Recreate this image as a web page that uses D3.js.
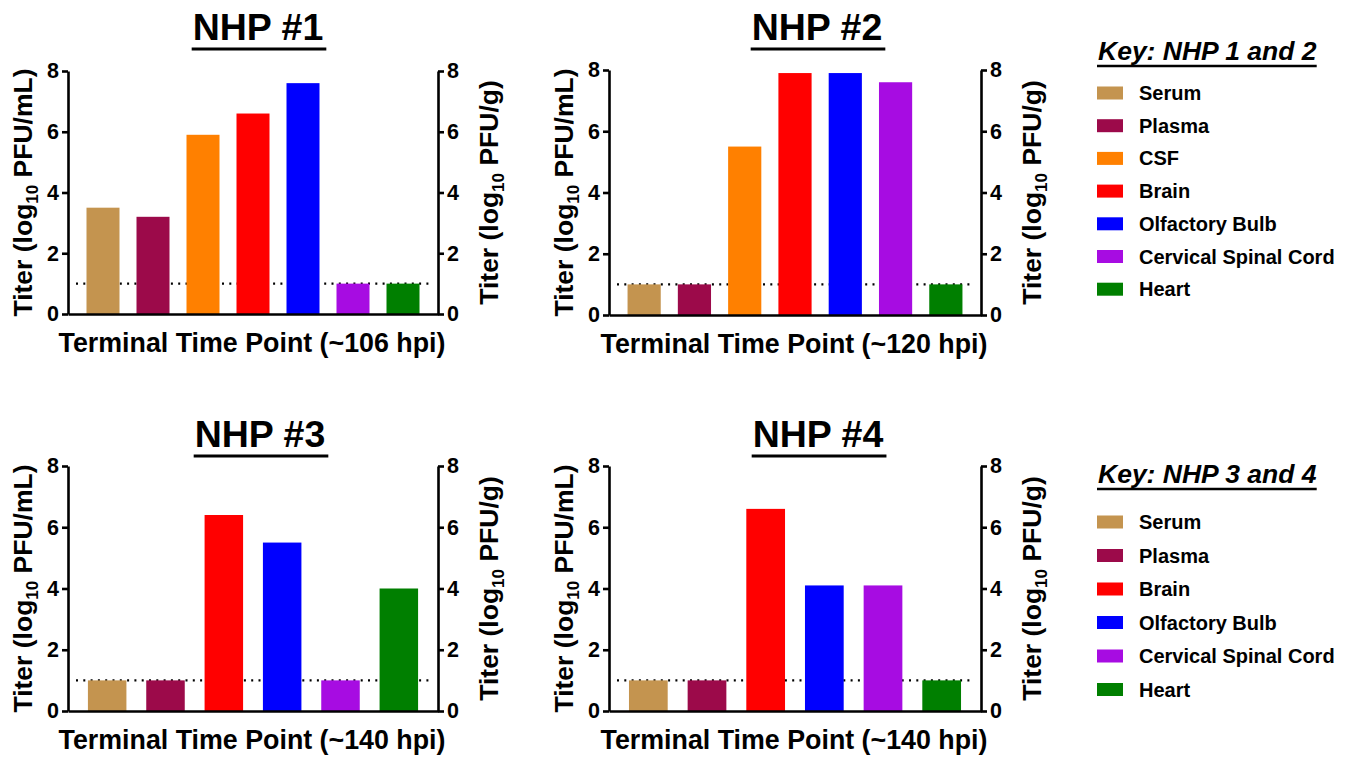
<!DOCTYPE html>
<html>
<head>
<meta charset="utf-8">
<script src="https://cdn.jsdelivr.net/npm/d3@7"></script>
<style>
  html, body { margin: 0; padding: 0; background: #fff; }
  svg { display: block; font-family: "Liberation Sans", Arial, sans-serif; font-weight: bold; }
</style>
</head>
<body>
<div id="chart"></div>
<script>
// values
const tissuesA = ["Serum", "Plasma", "CSF", "Brain", "Olfactory Bulb", "Cervical Spinal Cord", "Heart"]
const tissuesB = ["Serum", "Plasma", "Brain", "Olfactory Bulb", "Cervical Spinal Cord", "Heart"]
const nhp1Titers = [3.5, 3.2, 5.9, 6.6, 7.6, 1.0, 1.0]
const nhp2Titers = [1.0, 1.0, 5.5, 7.9, 7.9, 7.6, 1.0]
const nhp3Titers = [1.0, 1.0, 6.4, 5.5, 1.0, 4.0]
const nhp4Titers = [1.0, 1.0, 6.6, 4.1, 4.1, 1.0]
const panelTitles = ["NHP #1", "NHP #2", "NHP #3", "NHP #4"]
const timeLabels = ["Terminal Time Point (~106 hpi)", "Terminal Time Point (~120 hpi)",
    "Terminal Time Point (~140 hpi)", "Terminal Time Point (~140 hpi)"]
const keyTitles = ["Key: NHP 1 and 2", "Key: NHP 3 and 4"]
const yTicks = [0, 2, 4, 6, 8]
const yMax = 8
const detectionLimit = 1

const tissueColor = {
    "Serum": "#c4944f",
    "Plasma": "#9c0a4a",
    "CSF": "#ff8000",
    "Brain": "#ff0000",
    "Olfactory Bulb": "#0000ff",
    "Cervical Spinal Cord": "#a70ce2",
    "Heart": "#007f00"
}

// layout of each panel (plot box in page pixels)
const panels = [
    {tissues: tissuesA, values: nhp1Titers, left: 68, right: 438, top: 71, bottom: 314, titleX: 258, titleY: 40},
    {tissues: tissuesA, values: nhp2Titers, left: 609, right: 981, top: 70, bottom: 315, titleX: 817, titleY: 40},
    {tissues: tissuesB, values: nhp3Titers, left: 68, right: 438, top: 466, bottom: 711, titleX: 260, titleY: 447},
    {tissues: tissuesB, values: nhp4Titers, left: 609, right: 981, top: 466, bottom: 711, titleX: 818, titleY: 447}
]
const keys = [
    {tissues: tissuesA, x: 1097, titleY: 60, firstY: 93, gap: 32.7},
    {tissues: tissuesB, x: 1097, titleY: 483, firstY: 522, gap: 33.5}
]

const svg = d3.select("#chart")
    .append("svg")
    .attr("width", 1351)
    .attr("height", 757);

function underline(textSel, extra, offset, thick) {
    const box = textSel.node().getBBox();
    const y = +textSel.attr("y") + offset;
    svg.append("line")
        .attr("x1", box.x - 1)
        .attr("x2", box.x + box.width + extra)
        .attr("y1", y)
        .attr("y2", y)
        .attr("stroke", "#000")
        .attr("stroke-width", thick);
}

function titerLabel(g, unit, x, y) {
    const t = g.append("text")
        .attr("transform", `translate(${x}, ${y}) rotate(-90)`)
        .attr("text-anchor", "middle")
        .style("font-size", "26.5px");
    t.append("tspan").text("Titer (log");
    t.append("tspan").attr("dy", 6).style("font-size", "17px").text("10");
    t.append("tspan").attr("dy", -6).text(` PFU/${unit})`);
}

panels.forEach((p, i) => {
    const g = svg.append("g");

    const y = d3.scaleLinear()
        .domain([0, yMax])
        .range([p.bottom, p.top]);

    const x = d3.scaleBand()
        .domain(p.tissues)
        .range([p.left + 10, p.right - 10])
        .paddingInner(0.34)
        .paddingOuter(0.17);

    // limit of detection, behind the bars
    g.append("line")
        .attr("x1", p.left + 8)
        .attr("x2", p.right - 7)
        .attr("y1", y(detectionLimit))
        .attr("y2", y(detectionLimit))
        .attr("stroke", "#000")
        .attr("stroke-width", 2.2)
        .attr("stroke-dasharray", "2,5.3");

    g.selectAll("rect.bar")
        .data(p.tissues.map((t, k) => ({key: t, value: p.values[k]})))
        .enter()
        .append("rect")
        .attr("class", "bar")
        .attr("x", d => x(d.key))
        .attr("width", x.bandwidth())
        .attr("y", d => y(d.value))
        .attr("height", d => y(0) - y(d.value))
        .attr("fill", d => tissueColor[d.key]);

    const leftAxis = g.append("g")
        .attr("transform", `translate(${p.left}, 0)`)
        .call(d3.axisLeft(y).tickValues(yTicks).tickSize(6).tickSizeOuter(0).tickPadding(3));
    const rightAxis = g.append("g")
        .attr("transform", `translate(${p.right}, 0)`)
        .call(d3.axisRight(y).tickValues(yTicks).tickSize(6).tickSizeOuter(0).tickPadding(3));
    const baseAxis = g.append("g")
        .attr("transform", `translate(0, ${p.bottom})`)
        .call(d3.axisBottom(d3.scaleLinear().range([p.left, p.right])).ticks(0).tickSizeOuter(0));

    [leftAxis, rightAxis, baseAxis].forEach(a => {
        a.selectAll("path, line").attr("stroke", "#000").attr("stroke-width", 2.6);
        a.selectAll("text")
            .attr("fill", "#000")
            .style("font-size", "21.5px")
            .style("font-weight", "bold")
            .style("font-family", "'Liberation Sans', Arial, sans-serif");
    });

    titerLabel(g, "mL", p.left - 36, (p.top + p.bottom) / 2);
    titerLabel(g, "g", p.right + 60, (p.top + p.bottom) / 2);

    g.append("text")
        .attr("x", (p.left + p.right) / 2 - 1)
        .attr("y", p.bottom + 38)
        .attr("text-anchor", "middle")
        .style("font-size", "26.8px")
        .text(timeLabels[i]);

    const title = svg.append("text")
        .attr("x", p.titleX)
        .attr("y", p.titleY)
        .attr("text-anchor", "middle")
        .style("font-size", "37.5px")
        .text(panelTitles[i]);
    underline(title, 3, 9, 3.2);
});

keys.forEach((k, i) => {
    const title = svg.append("text")
        .attr("x", k.x + 1)
        .attr("y", k.titleY)
        .style("font-size", "26.5px")
        .style("font-style", "italic")
        .text(keyTitles[i]);
    underline(title, 0, 6, 2.4);

    const items = svg.selectAll(`g.key${i}`)
        .data(k.tissues)
        .enter()
        .append("g")
        .attr("class", `key${i}`)
        .attr("transform", (d, n) => `translate(${k.x}, ${k.firstY + n * k.gap})`);

    items.append("rect")
        .attr("x", 0)
        .attr("y", -6.5)
        .attr("width", 26)
        .attr("height", 13)
        .attr("fill", d => tissueColor[d]);

    items.append("text")
        .attr("x", 42)
        .attr("y", 7)
        .style("font-size", "20px")
        .text(d => d);
});
</script>
</body>
</html>
